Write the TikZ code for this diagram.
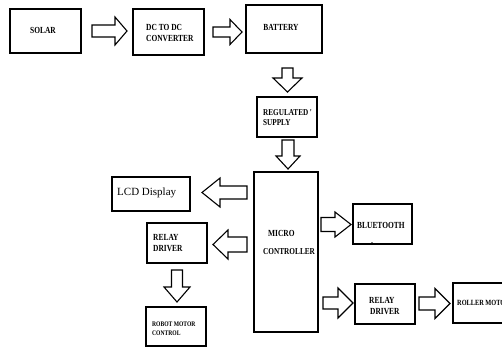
\documentclass[tikz,border=0pt]{standalone}
\usepackage{fontspec}
\setmainfont{Liberation Serif}
\newfontfamily\narrowfont[FakeStretch=0.8]{Liberation Serif}
\newcommand\myRarrow[6]{\draw[barrow] (#1,#3-#4) -- (#2-#6,#3-#4) -- (#2-#6,#3-#5) -- (#2,#3) -- (#2-#6,#3+#5) -- (#2-#6,#3+#4) -- (#1,#3+#4) -- cycle;}
\newcommand\myLarrow[6]{\draw[barrow] (#2,#3-#4) -- (#1+#6,#3-#4) -- (#1+#6,#3-#5) -- (#1,#3) -- (#1+#6,#3+#5) -- (#1+#6,#3+#4) -- (#2,#3+#4) -- cycle;}
\newcommand\myDarrow[6]{\draw[barrow] (#1-#4,#2) -- (#1-#4,#3-#6) -- (#1-#5,#3-#6) -- (#1,#3) -- (#1+#5,#3-#6) -- (#1+#4,#3-#6) -- (#1+#4,#2) -- cycle;}
\begin{document}
\begin{tikzpicture}[x=1pt,y=-1pt,
  box/.style={draw,line width=1.4pt,inner sep=0pt},
  lbl/.style={font=\narrowfont\fontsize{9.3}{11}\selectfont\bfseries,inner sep=0pt,anchor=west},
  sml/.style={font=\narrowfont\fontsize{7}{8}\selectfont\bfseries},
  barrow/.style={draw,line width=1.1pt,line join=miter,fill=white}]
\useasboundingbox (0,0) rectangle (502,351);
\clip (0,0) rectangle (502,351);
\fill[white] (0,0) rectangle (502,351);
% boxes
\node[box,minimum width=71pt,minimum height=44pt] (solar) at (45.5,31) {};
\node[box,minimum width=71pt,minimum height=46pt] (dcdc) at (168.5,32) {};
\node[box,minimum width=76pt,minimum height=48pt] (battery) at (284,29) {};
\node[box,minimum width=60pt,minimum height=40pt] (reg) at (287,117) {};
\node[box,minimum width=64pt,minimum height=160pt] (micro) at (286,252) {};
\node[box,minimum width=78pt,minimum height=34pt] (lcd) at (151,194) {};
\node[box,minimum width=60pt,minimum height=40pt] (relayL) at (177,243) {};
\node[box,minimum width=60pt,minimum height=39pt] (robot) at (176,326.5) {};
\node[box,minimum width=59pt,minimum height=40pt] (bt) at (382.5,224) {};
\node[box,minimum width=60pt,minimum height=40pt] (relayR) at (385,304) {};
\node[box,minimum width=67pt,minimum height=40pt] (roller) at (486.5,303) {};
% texts
\node[lbl,anchor=center] (tsolar) at (43,30) {SOLAR};
\node[lbl] (tdc1) at (146,27) {DC TO DC};
\node[lbl] (tdc2) at (146,38) {CONVERTER};
\node[lbl,anchor=center] (tbat) at (281,27) {BATTERY};
\node[lbl,font=\narrowfont\fontsize{9}{11}\selectfont\bfseries] (treg1) at (263,113) {REGULATED\,'};
\node[lbl,font=\narrowfont\fontsize{9}{11}\selectfont\bfseries] (treg2) at (263,123) {SUPPLY};
\node[lbl] (tmic1) at (268,233) {MICRO};
\node[lbl,font=\narrowfont\fontsize{9.1}{11}\selectfont\bfseries] (tmic2) at (263,252) {CONTROLLER};
\node[lbl,font=\fontsize{11}{13}\selectfont] (tlcd) at (117,193) {LCD Display};
\node[lbl] (trl1) at (153,237) {RELAY};
\node[lbl] (trl2) at (153,249) {DRIVER};
\node[lbl,sml] (trob1) at (152,324) {ROBOT MOTOR};
\node[lbl,sml] (trob2) at (152,333) {CONTROL};
\node[lbl] (tbt) at (357,225) {BLUETOOTH};
\node[lbl] (trr1) at (369,300) {RELAY};
\node[lbl] (trr2) at (370,312) {DRIVER};
\node[lbl,font=\narrowfont\fontsize{7.9}{9}\selectfont\bfseries] (troll) at (457,303) {ROLLER MOTOR};
\fill (372,243) circle (0.8);
% block arrows
\myRarrow{92}{127}{31}{6}{14}{12}
\myRarrow{213}{242}{32}{5}{12.5}{12}
\myDarrow{287.5}{68}{92}{5.5}{14.5}{14}
\myDarrow{288}{140}{169}{6}{12}{13}
\myLarrow{202}{247}{192.5}{6.5}{14.5}{18}
\myLarrow{213}{247}{244.5}{7.5}{14.5}{15}
\myDarrow{177}{270}{302}{5.5}{13}{15}
\myRarrow{321}{351}{224.5}{7}{12.5}{16}
\myRarrow{323}{353}{303}{6}{15}{15}
\myRarrow{419}{450}{303.5}{6.5}{15}{15}
\end{tikzpicture}
\end{document}
